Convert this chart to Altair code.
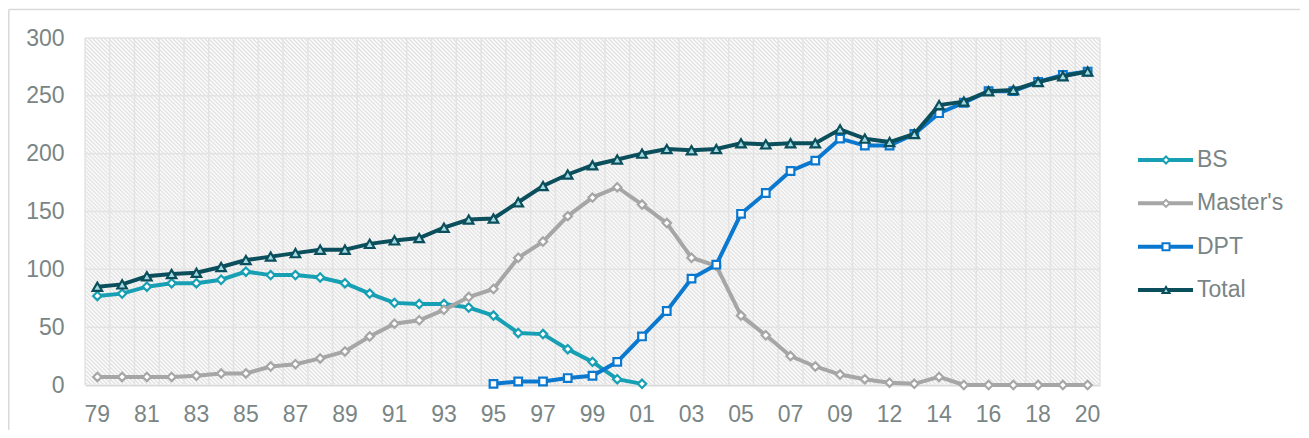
import json
import altair as alt
import pandas as pd

# ---------------- data ----------------
years = ['79', '80', '81', '82', '83', '84', '85', '86', '87', '88', '89',
         '90', '91', '92', '93', '94', '95', '96', '97', '98', '99',
         '00', '01', '02', '03', '04', '05', '06', '07', '08', '09',
         '10', '12', '13', '14', '15', '16', '17', '18', '19', '20']
shown_years = ['79', '81', '83', '85', '87', '89', '91', '93', '95', '97', '99',
               '01', '03', '05', '07', '09', '12', '14', '16', '18', '20']

bs_start = '79'
bs = [77, 79, 85, 88, 88, 91, 98, 95, 95, 93, 88, 79, 71, 70, 70, 67, 60,
      45, 44, 31, 20, 5, 1]

masters_start = '79'
masters = [7, 7, 7, 7, 8, 10, 10, 16, 18, 23, 29, 42, 53, 56, 65, 76, 83,
           110, 124, 146, 162, 171, 156, 140, 110, 103, 60, 43, 25, 16, 9,
           5, 2, 1, 7, 0, 0, 0, 0, 0, 0]

dpt_start = '95'
dpt = [1, 3, 3, 6, 8, 20, 42, 64, 92, 104, 148, 166, 185, 194, 213,
       207, 207, 217, 235, 244, 254, 254, 262, 268, 271]

total_start = '79'
total = [85, 87, 94, 96, 97, 102, 108, 111, 114, 117, 117, 122, 125, 127,
         136, 143, 144, 158, 172, 182, 190, 195, 200, 204, 203, 204, 209,
         208, 209, 209, 221, 213, 210, 217, 242, 245, 254, 255, 262, 267, 271]

series_names = ["BS", "Master's", "DPT", "Total"]
y_ticks = [0, 50, 100, 150, 200, 250, 300]

# ---------------- styles ----------------
W, H = 1015, 347
PAD = {"left": 77, "top": 30, "right": 200, "bottom": 45}
FONT = "Liberation Sans"
TEXT = "#7a8585"
GRID = "#e3e3e3"
FRAME = "#d9d9d9"
colors = ["#17a0b4", "#a6a6a6", "#0b78cf", "#0b4f5c"]
shapes = ["diamond", "diamond", "square", "triangle-up"]
fills = ["white", "white", "white", "#a3dbe2"]
sizes = [70, 70, 58, 90]

rows = []
for name, start, vals in [("BS", bs_start, bs), ("Master's", masters_start, masters),
                          ("DPT", dpt_start, dpt), ("Total", total_start, total)]:
    i0 = years.index(start)
    for i, v in enumerate(vals):
        rows.append({"year": years[i0 + i], "series": name, "value": v})
df = pd.DataFrame(rows)

x_scale = alt.Scale(type="band", domain=years, paddingInner=0, paddingOuter=0)
label_expr = "indexof(%s, datum.value) >= 0 ? datum.value : ''" % json.dumps(shown_years)
x_axis = alt.Axis(title=None, grid=False, ticks=False, domain=True,
                  domainColor="#d9d9d9", domainWidth=2, labelAngle=0,
                  labelExpr=label_expr, labelOverlap=False, labelFontSize=23,
                  labelColor=TEXT, labelFont=FONT, labelPadding=18)
y_scale = alt.Scale(domain=[0, 300], nice=False, zero=True)
y_axis = alt.Axis(title=None, values=y_ticks, grid=False, ticks=False, domain=False,
                  labelFontSize=23, labelColor=TEXT, labelFont=FONT, labelPadding=21)

X = alt.X("year:N", scale=x_scale, axis=x_axis, bandPosition=0.5)
Y = alt.Y("value:Q", scale=y_scale, axis=y_axis)

# hatched plot background (diagonal stripes) via a periodic linear gradient
N = (W + H) / 4.0
n_stops = int(2 * N)
stops = [alt.GradientStop(offset=min(1.0, k / (2 * N)),
                          color=("white" if k % 2 == 0 else "#e0e0e0"))
         for k in range(n_stops + 1)]
d = H / W
span = (1 + d) / (1 + d * d)
hatch = alt.LinearGradient(gradient="linear", stops=stops,
                           x1=0, y1=1, x2=span, y2=1 - d * span)

one = pd.DataFrame({"k": [0]})
background = alt.Chart(one).mark_rect(fill=hatch).encode(
    x=alt.value(0), x2=alt.value(W), y=alt.value(0), y2=alt.value(H - 1))

# chart-area frame (top and left edges visible in the reference crop)
fx0 = -PAD["left"] + 0.75
fy0 = -PAD["top"] + 1.5
frame_top = alt.Chart(one).mark_rule(color=FRAME, strokeWidth=1.5).encode(
    x=alt.value(fx0), x2=alt.value(W + PAD["right"]), y=alt.value(fy0))
frame_left = alt.Chart(one).mark_rule(color=FRAME, strokeWidth=1.5).encode(
    x=alt.value(fx0), y=alt.value(fy0), y2=alt.value(H + PAD["bottom"]))

vgrid = alt.Chart(pd.DataFrame({"year": years})).mark_rule(
    color=GRID, strokeWidth=1.5).encode(
    x=alt.X("year:N", scale=x_scale, axis=x_axis, bandPosition=0))
right_edge = alt.Chart(one).mark_rule(color=GRID, strokeWidth=1.5).encode(
    x=alt.value(W), y=alt.value(0), y2=alt.value(H))
hgrid = alt.Chart(pd.DataFrame({"value": y_ticks[1:]})).mark_rule(
    color=GRID, strokeWidth=1.5).encode(y=Y)

series_layers = []
for name, c, s, f, sz in zip(series_names, colors, shapes, fills, sizes):
    base = alt.Chart(df).transform_filter(alt.datum.series == name)
    series_layers.append(base.mark_line(color=c, strokeWidth=4).encode(x=X, y=Y))
    series_layers.append(base.mark_point(shape=s, size=sz, filled=True, fill=f,
                                         stroke=c, strokeWidth=2.2, opacity=1)
                         .encode(x=X, y=Y))

main = alt.layer(frame_top, frame_left, background, vgrid, right_edge, hgrid,
                 *series_layers)

# legend drawn with its own point scale
leg = alt.Chart(pd.DataFrame({"series": series_names}))
LY = alt.Y("series:N", axis=None,
           scale=alt.Scale(type="point", domain=series_names, range=[122, 252], padding=0))
leg_color = alt.Color("series:N", legend=None,
                      scale=alt.Scale(domain=series_names, range=colors))
leg_line = leg.mark_rule(strokeWidth=4).encode(
    x=alt.value(1053), x2=alt.value(1108), y=LY, color=leg_color)
leg_pt = leg.mark_point(filled=True, size=50, strokeWidth=2, opacity=1).encode(
    x=alt.value(1081), y=LY,
    stroke=alt.Stroke("series:N", legend=None,
                      scale=alt.Scale(domain=series_names, range=colors)),
    fill=alt.Fill("series:N", legend=None,
                  scale=alt.Scale(domain=series_names, range=fills)),
    shape=alt.Shape("series:N", legend=None,
                    scale=alt.Scale(domain=series_names, range=shapes)))
leg_text = leg.mark_text(align="left", baseline="middle", fontSize=23,
                         font=FONT, color=TEXT).encode(
    x=alt.value(1112), y=LY, text="series:N")
legend = alt.layer(leg_line, leg_pt, leg_text)

chart = alt.layer(main, legend).resolve_scale(
    y="independent", color="independent", stroke="independent",
    fill="independent", shape="independent"
).properties(
    width=W, height=H,
    padding=PAD,
    autosize=alt.AutoSizeParams(type="none"),
).configure_view(stroke=None)

chart.save("out.html", embed_options={"renderer": "svg", "actions": False})
